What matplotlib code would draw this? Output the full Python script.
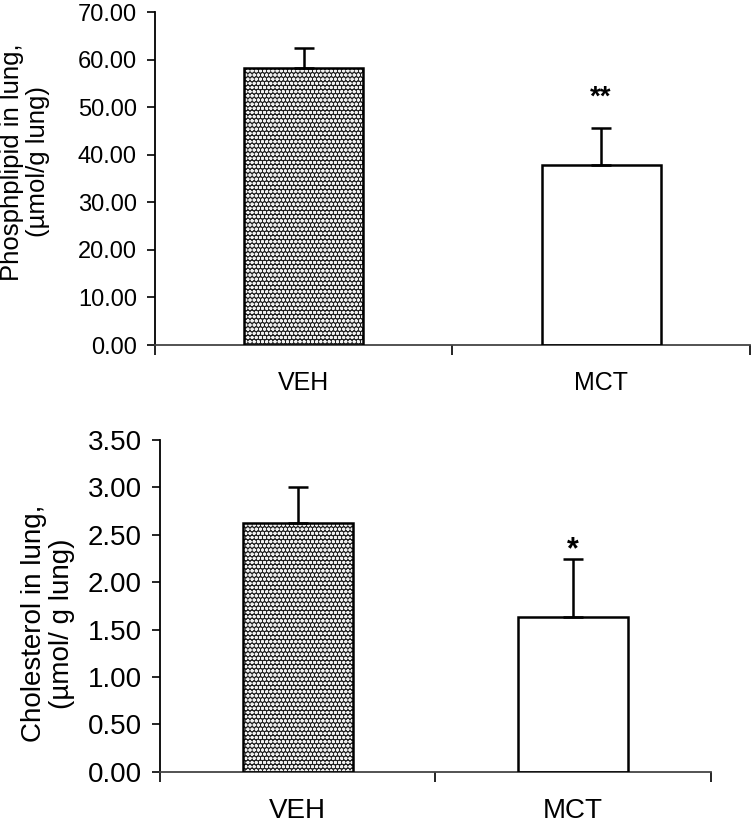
import matplotlib
matplotlib.use("Agg")
import matplotlib.pyplot as plt

plt.rcParams['font.family'] = ['Liberation Sans', 'DejaVu Sans']
plt.rcParams['hatch.linewidth'] = 1.0

groups = ['VEH', 'MCT']

# top panel: phospholipid
phos_mean = [58.2, 37.8]
phos_err = [4.2, 7.9]
phos_sig = ['', '**']
phos_ticks = [0, 10, 20, 30, 40, 50, 60, 70]

# bottom panel: cholesterol
chol_mean = [2.62, 1.63]
chol_err = [0.38, 0.61]
chol_sig = ['', '*']
chol_ticks = [0, 0.5, 1.0, 1.5, 2.0, 2.5, 3.0, 3.5]

fig = plt.figure(figsize=(7.53, 8.23), dpi=100)
ax1 = fig.add_axes([0.2058, 0.5808, 0.790, 0.4046])
ax2 = fig.add_axes([0.2125, 0.0623, 0.7315, 0.4031])


def draw(ax, means, errs, sig, ticks, ylabel, tick_fs, lab_fs, xfs, sfs, sig_off, xpad, lab_xy):
    x = range(len(groups))
    # hatched dark bar for VEH, open bar for MCT
    ax.bar([0], [means[0]], width=0.40, color='#202020', edgecolor='#f0f0f0',
           hatch='oooo', lw=0, zorder=2)
    ax.bar(x, means, width=0.40, fill=False, edgecolor='black', lw=1.8, zorder=3)
    ax.errorbar(x, means, yerr=[[0] * len(means), errs], fmt='none',
                ecolor='black', elinewidth=1.8, capsize=7, capthick=1.8, zorder=4)
    for i, s in enumerate(sig):
        if s:
            ax.text(i, means[i] + errs[i] + sig_off, s, ha='center', va='center',
                    fontsize=sfs, fontweight='bold')
    ax.set_xlim(-0.5, 1.5)
    ax.set_ylim(0, ticks[-1])
    ax.set_yticks(ticks)
    ax.set_yticklabels(['%.2f' % t for t in ticks], fontsize=tick_fs)
    ax.set_xticks(list(x))
    ax.set_xticklabels(groups, fontsize=xfs)
    ax.set_xticks([-0.5, 0.5, 1.5], minor=True)
    ax.tick_params(axis='x', which='major', length=0, pad=xpad)
    ax.tick_params(axis='x', which='minor', length=7, width=1.2, direction='out')
    ax.tick_params(axis='y', length=6, width=1.2, direction='out', pad=7)
    ax.spines['top'].set_visible(False)
    ax.spines['right'].set_visible(False)
    ax.spines['left'].set_linewidth(1.3)
    ax.spines['bottom'].set_linewidth(1.3)
    ax.spines['bottom'].set_color('#444444')
    ax.set_ylabel(ylabel, fontsize=lab_fs, linespacing=1.1)
    ax.yaxis.set_label_coords(*lab_xy)


draw(ax1, phos_mean, phos_err, phos_sig, phos_ticks,
     'Phosphplipid in lung,\n(\u00b5mol/g lung)', 17, 18.5, 18, 20, 6.4, 19, (-0.176, 0.55))
draw(ax2, chol_mean, chol_err, chol_sig, chol_ticks,
     'Cholesterol in lung,\n(\u00b5mol/ g lung)', 20, 20, 20, 22, 0.10, 19, (-0.155, 0.447))

fig.savefig('out.png', dpi=100)
